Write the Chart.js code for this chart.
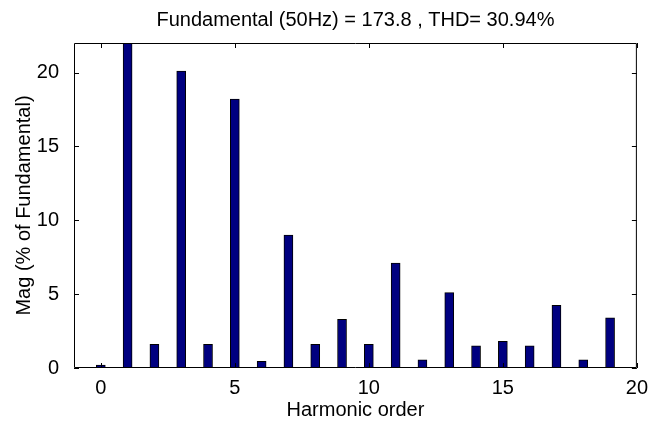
<!DOCTYPE html>
<html>
<head>
<meta charset="utf-8">
<script src="https://cdn.jsdelivr.net/npm/chart.js@4/dist/chart.umd.min.js"></script>
<style>
    html, body { margin: 0; padding: 0; background: #fff; }
    #wrap { width: 648px; height: 423px; }
</style>
</head>
<body>
<div id="wrap"><canvas id="fft-chart" width="648" height="423"></canvas></div>
<script>
// Harmonic spectrum (fundamental = 100 %, clipped at the top)
const harmonicOrder = [0, 1, 2, 3, 4, 5, 6, 7, 8, 9, 10, 11, 12, 13, 14, 15, 16, 17, 18, 19];
const magPercent = [0.2, 100, 1.6, 20.1, 1.6, 18.2, 0.45, 9.0, 1.6, 3.3, 1.6, 7.1, 0.55, 5.1, 1.5, 1.8, 1.5, 4.25, 0.55, 3.4];
const xTicks = [0, 5, 10, 15, 20];
const yTicks = [0, 5, 10, 15, 20];

const titleText = 'Fundamental (50Hz) = 173.8 , THD= 30.94%';
const fontFamily = '"Liberation Sans", Arial, sans-serif';

// Draws the axes box with MATLAB style inward ticks
const boxTicks = {
    id: 'boxTicks',
    afterDatasetsDraw: (chart) => {
        const { ctx, chartArea: { top, bottom, left, right }, scales: { x, y } } = chart;
        const len = 5;
        ctx.save();
        ctx.strokeStyle = '#000';
        ctx.lineWidth = 1;
        ctx.beginPath();
        ctx.rect(left + 0.5, top + 0.5, right - left - 1, bottom - top - 1);
        xTicks.forEach(v => {
            const px = Math.round(x.getPixelForValue(v)) + 0.5;
            ctx.moveTo(px, bottom);
            ctx.lineTo(px, bottom - len);
            ctx.moveTo(px, top);
            ctx.lineTo(px, top + len);
        });
        yTicks.forEach(v => {
            const py = Math.round(y.getPixelForValue(v)) + 0.5;
            ctx.moveTo(left, py);
            ctx.lineTo(left + len, py);
            ctx.moveTo(right, py);
            ctx.lineTo(right - len, py);
        });
        ctx.stroke();
        ctx.restore();
    }
};

const ctxFft = document.getElementById('fft-chart').getContext('2d');

const fftChart = new Chart(ctxFft, {
    type: 'bar',
    data: {
        datasets: [{
            label: 'Mag',
            data: harmonicOrder.map((h, i) => ({ x: h, y: magPercent[i] })),
            backgroundColor: '#000080',
            borderColor: '#000',
            borderWidth: 1,
            borderSkipped: 'bottom',
            barThickness: 9,
        }]
    },
    options: {
        responsive: false,
        animation: false,
        devicePixelRatio: 1,
        layout: { padding: { top: 0, right: 11, left: 0, bottom: 0 } },
        plugins: {
            legend: { display: false },
            tooltip: { enabled: false },
            title: {
                display: true,
                fullSize: false,
                text: titleText,
                color: '#000',
                font: { family: fontFamily, size: 20, weight: 'normal' },
                padding: { top: 8, bottom: 11 },
            },
        },
        scales: {
            x: {
                type: 'linear',
                min: -1,
                max: 20,
                offset: false,
                grid: { display: false },
                border: { display: false },
                afterBuildTicks: (scale) => { scale.ticks = xTicks.map(v => ({ value: v })); },
                afterFit: (scale) => { scale.height = 55; },
                ticks: {
                    color: '#000',
                    padding: 0,
                    maxRotation: 0,
                    font: { family: fontFamily, size: 20 },
                },
                title: {
                    display: true,
                    text: 'Harmonic order',
                    color: '#000',
                    font: { family: fontFamily, size: 20 },
                    padding: { top: 0, bottom: 1 },
                },
            },
            y: {
                min: 0,
                max: 22,
                grid: { display: false },
                border: { display: false },
                afterBuildTicks: (scale) => { scale.ticks = yTicks.map(v => ({ value: v })); },
                afterFit: (scale) => { scale.width = 74; },
                ticks: {
                    color: '#000',
                    padding: 7,
                    font: { family: fontFamily, size: 20 },
                },
                title: {
                    display: true,
                    text: 'Mag (% of Fundamental)',
                    color: '#000',
                    font: { family: fontFamily, size: 20 },
                    padding: { top: 12, bottom: 0 },
                },
            },
        },
    },
    plugins: [boxTicks]
});
</script>
</body>
</html>
